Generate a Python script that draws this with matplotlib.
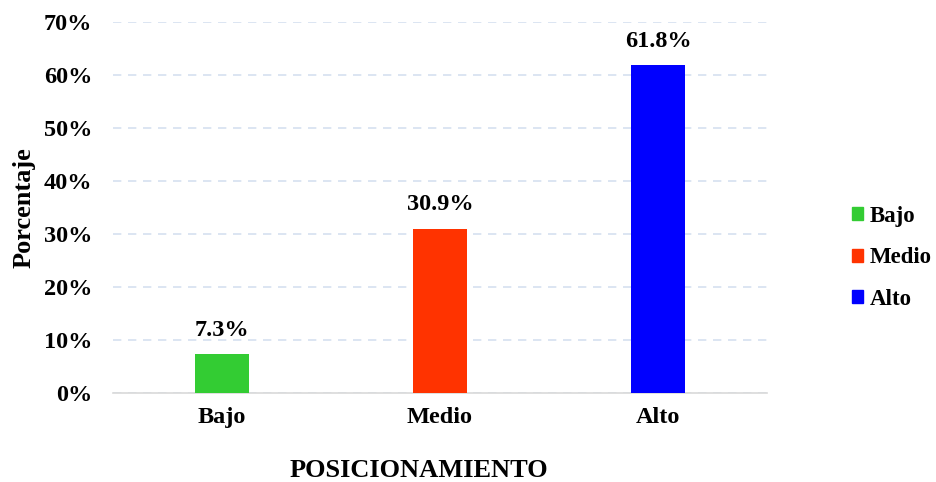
import matplotlib
matplotlib.use("Agg")
import matplotlib.pyplot as plt
from matplotlib.ticker import PercentFormatter
from matplotlib.patches import Patch

# datos
categorias = ["Bajo", "Medio", "Alto"]
porcentajes = [7.3, 30.9, 61.8]
colores = ["#33CC33", "#FF3300", "#0000FF"]

plt.rcParams["font.family"] = ["Liberation Serif", "DejaVu Serif"]
plt.rcParams["font.weight"] = "bold"

fig = plt.figure(figsize=(9.37, 4.82), dpi=100)
ax = fig.add_axes([0.1206, 0.1846, 0.698, 0.7698])

x = range(len(categorias))
bars = ax.bar(x, porcentajes, width=0.25, color=colores, zorder=3)

for b, v in zip(bars, porcentajes):
    ax.text(b.get_x() + b.get_width() / 2, v + 2.6, f"{v:.1f}%",
            ha="center", va="bottom", fontsize=17.5, fontweight="bold")

ax.set_xlim(-0.5, 2.5)
ax.set_ylim(0, 70)
ax.set_yticks(range(0, 71, 10))
ax.yaxis.set_major_formatter(PercentFormatter(decimals=0))
ax.set_xticks(list(x))
ax.set_xticklabels(categorias)

ax.grid(axis="y", color="#D6E0F0", linestyle=(0, (5, 4)), linewidth=1.2, zorder=0)
for s in ["top", "right", "left"]:
    ax.spines[s].set_visible(False)
ax.spines["bottom"].set_color("#D9D9D9")
ax.spines["bottom"].set_linewidth(1.2)
ax.tick_params(axis="both", length=0, labelsize=17.5)
ax.tick_params(axis="y", pad=15)
ax.tick_params(axis="x", pad=10)

ax.set_ylabel("Porcentaje", fontsize=19, fontweight="bold")
ax.yaxis.set_label_coords(-0.118, 0.5)
ax.set_xlabel("POSICIONAMIENTO", fontsize=19, fontweight="bold")
ax.xaxis.set_label_coords(0.467, -0.178)

handles = [Patch(color=c, label=l) for c, l in zip(colores, categorias)]
fig.legend(handles=handles, loc="center left", bbox_to_anchor=(0.909, 0.465),
           frameon=False, fontsize=16.5, handlelength=0.5, handleheight=0.5,
           handletextpad=0.3, labelspacing=0.9, borderaxespad=0, borderpad=0)

fig.savefig("out.png", dpi=100, facecolor="white")
